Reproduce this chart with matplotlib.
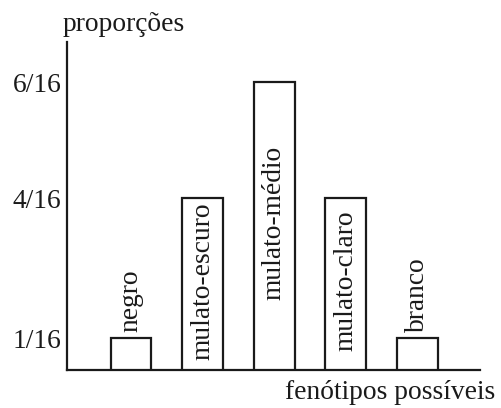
import numpy as np
import matplotlib
matplotlib.use("Agg")
import matplotlib.pyplot as plt
from matplotlib.transforms import blended_transform_factory

# Data (in sixteenths)
categories = ["negro", "mulato-escuro", "mulato-médio", "mulato-claro", "branco"]
values = [1, 4, 6, 4, 1]
tick_values = [1, 4, 6]
tick_labels = ["1/16", "4/16", "6/16"]

# schematic (non-proportional) vertical scale of the original drawing
knots_val = [0, 1, 4, 6, 7]
knots_pos = [0, 32, 172, 288, 328]

def fwd(y):
    return np.interp(y, knots_val, knots_pos)

def inv(t):
    return np.interp(t, knots_pos, knots_val)

plt.rcParams['font.family'] = ['Liberation Serif', 'DejaVu Serif']
FS = 19.8

fig = plt.figure(figsize=(5.01, 4.08), dpi=100)
ax = fig.add_axes([67/501, 38/408, 413/501, 328/408])
ax.set_yscale('function', functions=(fwd, inv))

x = np.arange(len(categories))
ax.bar(x, values, width=0.57, color='white', edgecolor='#1a1a1a', linewidth=1.6, zorder=3)

ax.set_xlim(-0.894, 4.874)
ax.set_ylim(0, 7)

ax.set_yticks(tick_values)
ax.set_yticklabels(tick_labels, fontsize=FS)
ax.tick_params(axis='y', length=0, pad=4, colors='#1a1a1a')
ax.set_xticks([])
for s in ['top', 'right']:
    ax.spines[s].set_visible(False)
for s in ['left', 'bottom']:
    ax.spines[s].set_linewidth(1.6)
    ax.spines[s].set_color('#1a1a1a')

trans = blended_transform_factory(ax.transData, ax.transAxes)
top_t = fwd(7)
for i, (c, v) in enumerate(zip(categories, values)):
    if v <= 1:
        ax.annotate(c, xy=(i, v), xytext=(0, 4), textcoords='offset points',
                    rotation=90, ha='center', va='bottom', fontsize=FS, color='#1a1a1a')
    else:
        yc = (fwd(v) / top_t) / 2 + 0.009
        ax.text(i, yc, c, transform=trans, rotation=90, ha='center', va='center',
                fontsize=FS, color='#1a1a1a')

fig.text(63/501, 1 - 31/408, "proporções", fontsize=FS, ha='left', va='baseline', color='#1a1a1a')
fig.text(495/501, 1 - 399/408, "fenótipos possíveis", fontsize=FS, ha='right', va='baseline', color='#1a1a1a')

fig.savefig("out.png", dpi=100)
